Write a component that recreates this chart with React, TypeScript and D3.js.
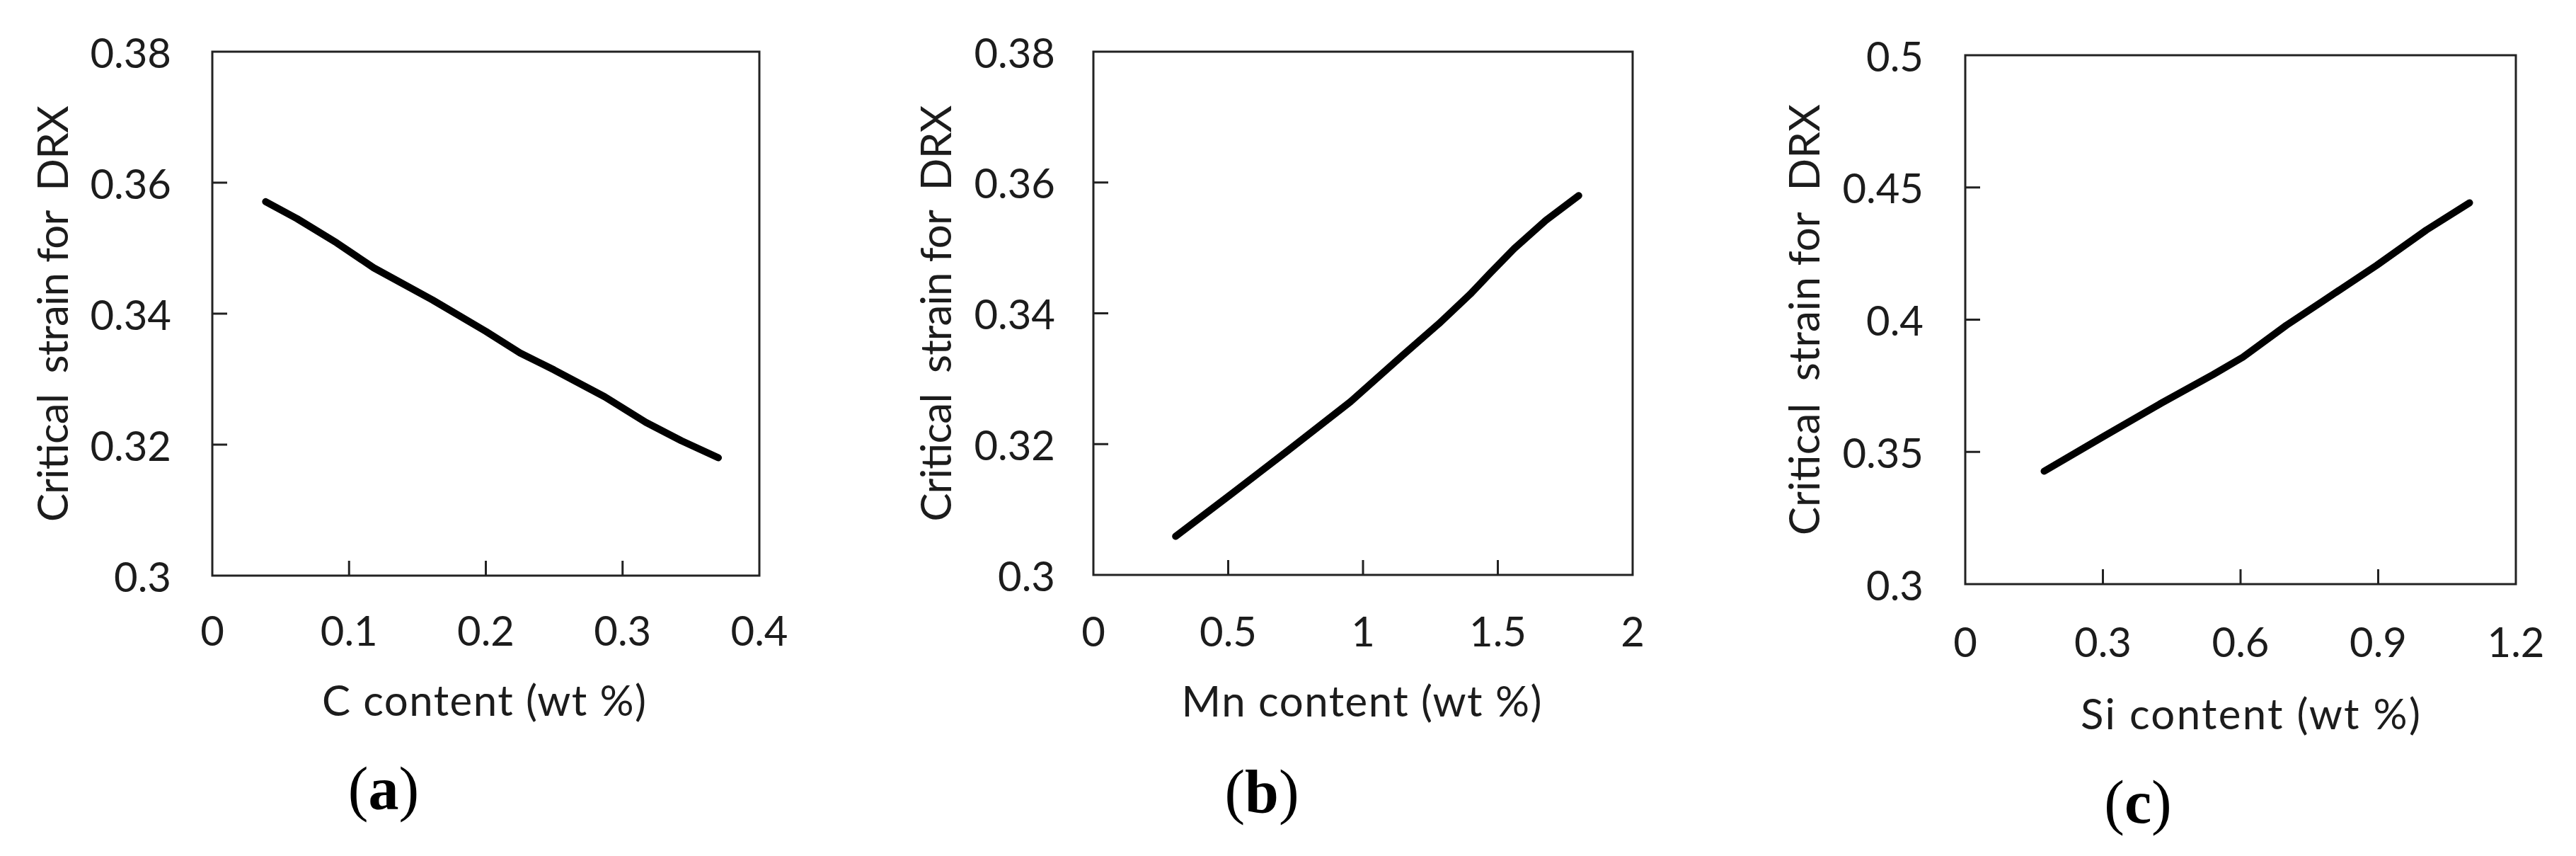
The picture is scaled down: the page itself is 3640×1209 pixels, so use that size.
import React from "react";
import * as d3 from "d3";

// ---- data ----
const cContent = [0.039, 0.062, 0.091, 0.118, 0.161, 0.2, 0.225, 0.25, 0.287, 0.317, 0.343, 0.37];
const cStrain = [0.3571, 0.3545, 0.3508, 0.347, 0.3421, 0.3373, 0.334, 0.3314, 0.3273, 0.3234, 0.3206, 0.318];

const mnContent = [0.305, 0.516, 0.721, 0.954, 1.145, 1.281, 1.397, 1.473, 1.561, 1.678, 1.8];
const mnStrain = [0.3059, 0.3125, 0.319, 0.3265, 0.3335, 0.3384, 0.3429, 0.3462, 0.3499, 0.3542, 0.358];

const siContent = [0.172, 0.301, 0.428, 0.54, 0.605, 0.7, 0.781, 0.897, 1.005, 1.099];
const siStrain = [0.3427, 0.3558, 0.3685, 0.3792, 0.3858, 0.3979, 0.4072, 0.4206, 0.4339, 0.4442];

const cTicks = [0, 0.1, 0.2, 0.3, 0.4];
const cTickLabels = ["0", "0.1", "0.2", "0.3", "0.4"];
const mnTicks = [0, 0.5, 1, 1.5, 2];
const mnTickLabels = ["0", "0.5", "1", "1.5", "2"];
const siTicks = [0, 0.3, 0.6, 0.9, 1.2];
const siTickLabels = ["0", "0.3", "0.6", "0.9", "1.2"];

const strainTicksAB = [0.3, 0.32, 0.34, 0.36, 0.38];
const strainLabelsAB = ["0.3", "0.32", "0.34", "0.36", "0.38"];
const strainTicksC = [0.3, 0.35, 0.4, 0.45, 0.5];
const strainLabelsC = ["0.3", "0.35", "0.4", "0.45", "0.5"];

const yTitle = "Critical  strain for  DRX";
const xTitles = ["C content (wt %)", "Mn content (wt %)", "Si content (wt %)"];
const panelLetters = ["a", "b", "c"];

const FONT = "Lato, 'Open Sans', sans-serif";
const INK = "#1c1c1c";

// layout of the three panels (pixels)
const panels = [
  {
    xs: cContent, ys: cStrain, xTicks: cTicks, xLabels: cTickLabels,
    yTicks: strainTicksAB, yLabels: strainLabelsAB,
    box: { left: 300, right: 1073, top: 73, bottom: 813 },
    tickGap: 58, yTitleX: 96, yTitleLen: 588, xTitleCx: 684, xTitleY: 1011, xTitleLen: 458,
    xTickY: 889, letterX: 542, letterY: 1143,
  },
  {
    xs: mnContent, ys: mnStrain, xTicks: mnTicks, xLabels: mnTickLabels,
    yTicks: strainTicksAB, yLabels: strainLabelsAB,
    box: { left: 1545, right: 2307, top: 73, bottom: 812 },
    tickGap: 54, yTitleX: 1344, yTitleLen: 588, xTitleCx: 1924, xTitleY: 1012, xTitleLen: 509,
    xTickY: 890, letterX: 1783, letterY: 1147,
  },
  {
    xs: siContent, ys: siStrain, xTicks: siTicks, xLabels: siTickLabels,
    yTicks: strainTicksC, yLabels: strainLabelsC,
    box: { left: 2777, right: 3555, top: 78, bottom: 825 },
    tickGap: 59, yTitleX: 2571, yTitleLen: 609, xTitleCx: 3180, xTitleY: 1030, xTitleLen: 480,
    xTickY: 905, letterX: 3021, letterY: 1162,
  },
];

const Panel = ({ p, idx }) => {
  const { box } = p;
  const x = d3.scaleLinear().domain(d3.extent(p.xTicks)).range([box.left, box.right]);
  const y = d3.scaleLinear().domain(d3.extent(p.yTicks)).range([box.bottom, box.top]);
  const pts = p.xs.map((v, i) => [v, p.ys[i]]);
  const line = d3.line().x((d) => x(d[0])).y((d) => y(d[1]));
  const tickLen = 21;
  const midY = (box.top + box.bottom) / 2;

  return (
    <g>
      {/* plot frame */}
      <rect x={box.left} y={box.top} width={box.right - box.left} height={box.bottom - box.top}
        fill="none" stroke="#222" strokeWidth={3} />

      {/* inner ticks */}
      {p.xTicks.slice(1, -1).map((t) => (
        <line key={"xt" + t} x1={x(t)} x2={x(t)} y1={box.bottom} y2={box.bottom - tickLen}
          stroke="#222" strokeWidth={3} />
      ))}
      {p.yTicks.slice(1, -1).map((t) => (
        <line key={"yt" + t} x1={box.left} x2={box.left + tickLen} y1={y(t)} y2={y(t)}
          stroke="#222" strokeWidth={3} />
      ))}

      {/* tick labels */}
      {p.xTicks.map((t, i) => (
        <text key={"xl" + t} x={x(t)} y={p.xTickY} textAnchor="middle" dominantBaseline="central"
          fontFamily={FONT} fontSize={58} fill={INK}>{p.xLabels[i]}</text>
      ))}
      {p.yTicks.map((t, i) => (
        <text key={"yl" + t} x={box.left - p.tickGap} y={y(t)} textAnchor="end" dominantBaseline="central"
          fontFamily={FONT} fontSize={58} fill={INK}>{p.yLabels[i]}</text>
      ))}

      {/* axis titles */}
      <text x={p.xTitleCx} y={p.xTitleY} textAnchor="middle" fontFamily={FONT} fontSize={60}
        textLength={p.xTitleLen} lengthAdjust="spacing"
        fill={INK} style={{ whiteSpace: "pre" }}>{xTitles[idx]}</text>
      <text transform={`translate(${p.yTitleX}, ${midY}) rotate(-90)`} textAnchor="middle"
        textLength={p.yTitleLen} lengthAdjust="spacing"
        fontFamily={FONT} fontSize={60} fill={INK} style={{ whiteSpace: "pre" }}>{yTitle}</text>

      {/* data line */}
      <path d={line(pts)} fill="none" stroke="#000" strokeWidth={10}
        strokeLinecap="round" strokeLinejoin="round" />

      {/* panel letter */}
      <text x={p.letterX} y={p.letterY} textAnchor="middle" fontFamily="'Liberation Serif', 'Times New Roman', serif"
        fontSize={86} fill="#000">
        (<tspan fontWeight="bold">{panelLetters[idx]}</tspan>)
      </text>
    </g>
  );
};

export default function App() {
  return (
    <svg width={3640} height={1209} style={{ position: "absolute", left: 0, top: 0, background: "#fff" }}>
      <rect width={3640} height={1209} fill="#fff" />
      {panels.map((p, i) => (
        <Panel key={i} p={p} idx={i} />
      ))}
    </svg>
  );
}
